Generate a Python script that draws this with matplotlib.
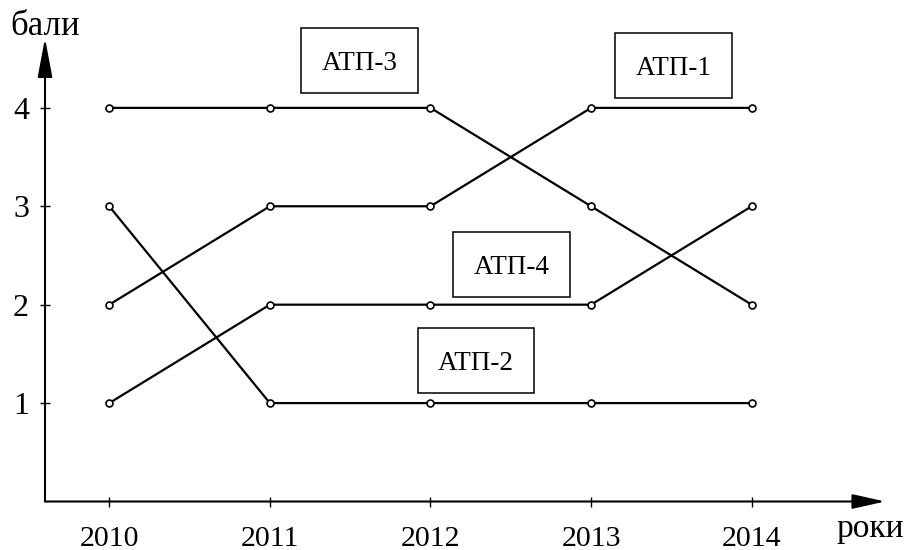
import matplotlib.pyplot as plt
from matplotlib.patches import Rectangle

plt.rcParams['font.family'] = ['Liberation Serif', 'DejaVu Serif']

# дані
roky = [2010, 2011, 2012, 2013, 2014]
atp1 = [2, 3, 3, 4, 4]
atp2 = [3, 1, 1, 1, 1]
atp3 = [4, 4, 4, 3, 2]
atp4 = [1, 2, 2, 2, 3]
nazvy = ['АТП-3', 'АТП-1', 'АТП-4', 'АТП-2']

# положення підписів (центри рамок)
pidpys_x = [2011.558, 2013.513, 2012.504, 2012.283]
pidpys_y = [4.477, 4.426, 2.406, 1.437]
shyryna, vysota = 0.725, 0.66

fig = plt.figure(figsize=(9.13, 5.5), dpi=100)
ax = fig.add_axes([45 / 913, 48.5 / 550, 840 / 913, 463.5 / 550])

for seria in [atp1, atp2, atp3, atp4]:
    ax.plot(roky, seria, color='black', lw=1.6, marker='o', ms=5,
            mfc='white', mec='black', mew=1.2, zorder=3)

for n, x, y in zip(nazvy, pidpys_x, pidpys_y):
    ax.add_patch(Rectangle((x - shyryna / 2, y - vysota / 2), shyryna, vysota,
                           fill=False, ec='black', lw=1.1, clip_on=False))
    ax.text(x, y, n, ha='center', va='center_baseline', fontsize=19.5)

ax.set_xlim(2009.6, 2014.83)
ax.set_ylim(0, 4.71)
ax.set_xticks(roky)
ax.set_yticks([1, 2, 3, 4])
ax.tick_params(axis='x', direction='inout', length=7, width=1, labelsize=21.5, pad=14)
ax.tick_params(axis='y', direction='inout', length=7, width=1, labelsize=23, pad=8)

for s in ax.spines.values():
    s.set_visible(False)

# осі зі стрілками
ax.annotate('', xy=(0, 1), xytext=(0, 0), xycoords='axes fraction',
            arrowprops=dict(arrowstyle='-|>,head_length=2.4,head_width=0.45',
                            mutation_scale=10, color='black', lw=1.5,
                            shrinkA=0, shrinkB=0))
ax.annotate('', xy=(1, 0), xytext=(0, 0), xycoords='axes fraction',
            arrowprops=dict(arrowstyle='-|>,head_length=2.0,head_width=0.45',
                            mutation_scale=10, color='black', lw=1.5,
                            shrinkA=0, shrinkB=0))

fig.text(45 / 913, 1 - 35 / 550, 'бали', ha='center', va='baseline', fontsize=25)
fig.text(870 / 913, 1 - 537 / 550, 'роки', ha='center', va='baseline', fontsize=24)

fig.savefig('out.png', dpi=100)
